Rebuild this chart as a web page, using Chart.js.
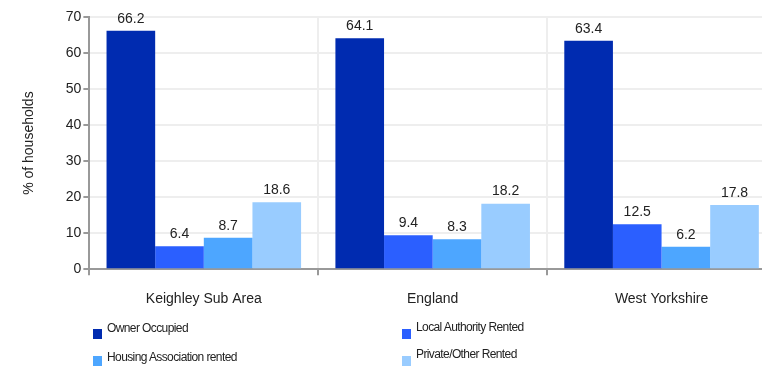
<!DOCTYPE html>
<html>
<head>
<meta charset="utf-8">
<script src="https://cdn.jsdelivr.net/npm/chart.js@4.4.0/dist/chart.umd.min.js"></script>
<style>
  html, body { margin: 0; padding: 0; background: #fff; overflow: hidden; }
  #wrap { position: relative; width: 762px; height: 368px; overflow: hidden; }
  #box { position: absolute; left: 0; top: 0; width: 776px; height: 324px; }
  #legend { position: absolute; left: 0; top: 0; width: 762px; height: 368px; pointer-events: none;
    font-family: "Liberation Sans", Arial, sans-serif; font-size: 12px; letter-spacing: -0.6px; color: #222; }
  .item { position: absolute; white-space: nowrap; }
  .item .sw { position: absolute; width: 9px; height: 10px; left: 0; top: 0; }
  .item .tx { position: absolute; left: 14px; }
</style>
</head>
<body>
<div id="wrap">
  <div id="box"><canvas id="myChart"></canvas></div>
  <div id="legend"></div>
</div>
<script>
const categories = ["Keighley Sub Area", "England", "West Yorkshire"];
const seriesNames = ["Owner Occupied", "Local Authority Rented", "Housing Association rented", "Private/Other Rented"];
const ownerOccupied = [66.2, 64.1, 63.4];
const localAuthority = [6.4, 9.4, 12.5];
const housingAssociation = [8.7, 8.3, 6.2];
const privateOther = [18.6, 18.2, 17.8];
const yTicks = [0, 10, 20, 30, 40, 50, 60, 70];

const colors = ["#002bb0", "#2b5fff", "#4da6ff", "#99ccff"];
const values = [ownerOccupied, localAuthority, housingAssociation, privateOther];
const font = "'Liberation Sans', Arial, sans-serif";

// value above each bar
const valueLabels = {
  id: "valueLabels",
  afterDatasetsDraw(chart) {
    const ctx = chart.ctx;
    ctx.save();
    ctx.font = "14px " + font;
    ctx.fillStyle = "#222";
    ctx.textAlign = "center";
    ctx.textBaseline = "bottom";
    chart.data.datasets.forEach((ds, i) => {
      chart.getDatasetMeta(i).data.forEach((bar, j) => {
        ctx.fillText(ds.data[j].toFixed(1), bar.x, bar.y - 5);
      });
    });
    ctx.restore();
  }
};

const ctx = document.getElementById("myChart").getContext("2d");
new Chart(ctx, {
  type: "bar",
  data: {
    labels: categories,
    datasets: seriesNames.map((name, i) => ({
      label: name,
      data: values[i],
      backgroundColor: colors[i],
      borderWidth: 0,
      categoryPercentage: 0.85,
      barPercentage: 1.0
    }))
  },
  options: {
    responsive: true,
    maintainAspectRatio: false,
    animation: false,
    layout: { padding: { top: 17, right: 0, left: 17, bottom: 0 } },
    plugins: { legend: { display: false }, tooltip: { enabled: false } },
    scales: {
      x: {
        grid: { offset: true, color: "#eeeeee", lineWidth: 2, tickLength: 6, tickColor: "#999999" },
        border: { color: "#999999", width: 2 },
        ticks: { color: "#222", font: { family: font, size: 14 }, padding: 16 }
      },
      y: {
        min: 0,
        max: 70,
        afterBuildTicks(axis) { axis.ticks = yTicks.map(v => ({ value: v })); },
        grid: { color: "#eeeeee", lineWidth: 2, tickLength: 6, tickColor: "#999999" },
        border: { color: "#999999", width: 2 },
        ticks: { color: "#222", font: { family: font, size: 14 }, padding: 2 },
        title: { display: true, text: "% of households", color: "#222", font: { family: font, size: 14 }, padding: { bottom: 26 } }
      }
    }
  },
  plugins: [valueLabels]
});

const legend = document.getElementById("legend");
const legendPos = [[93, 329], [402, 329], [93, 356], [402, 356]];
const legendTextDy = [-8, -9, -6, -9];
seriesNames.forEach((name, i) => {
  const el = document.createElement("div");
  el.className = "item";
  el.style.left = legendPos[i][0] + "px";
  el.style.top = legendPos[i][1] + "px";
  el.innerHTML = '<span class="sw" style="background:' + colors[i] + '"></span><span class="tx" style="top:' + legendTextDy[i] + 'px">' + name + '</span>';
  legend.appendChild(el);
});
</script>
</body>
</html>
